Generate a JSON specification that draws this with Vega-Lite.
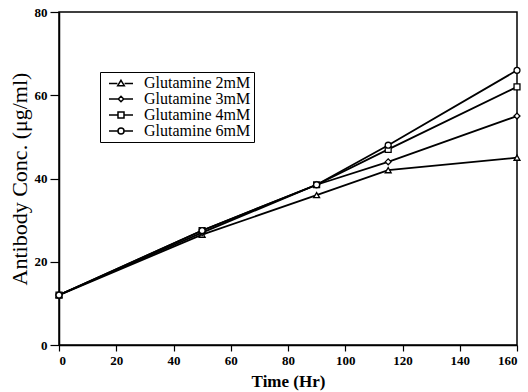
{
  "$schema": "https://vega.github.io/schema/vega-lite/v6.json",
  "autosize": {"type": "none"},
  "padding": {"left": 59, "top": 12, "right": 11, "bottom": 47},
  "width": 458,
  "height": 333,
  "background": "white",
  "config": {
    "font": "Liberation Serif",
    "view": {"stroke": "black", "strokeWidth": 1.5},
    "axis": {"grid": false, "domainColor": "black", "tickColor": "black", "labelColor": "black", "titleColor": "black", "labelFont": "Liberation Serif", "titleFont": "Liberation Serif", "domainWidth": 1.5, "tickWidth": 1.2}
  },
  "data": {
    "values": [
      {"time": 0, "conc": 12, "series": "Glutamine 2mM"},
      {"time": 50, "conc": 26.5, "series": "Glutamine 2mM"},
      {"time": 90, "conc": 36, "series": "Glutamine 2mM"},
      {"time": 115, "conc": 42, "series": "Glutamine 2mM"},
      {"time": 160, "conc": 45, "series": "Glutamine 2mM"},
      {"time": 0, "conc": 12, "series": "Glutamine 3mM"},
      {"time": 50, "conc": 27, "series": "Glutamine 3mM"},
      {"time": 90, "conc": 38.5, "series": "Glutamine 3mM"},
      {"time": 115, "conc": 44, "series": "Glutamine 3mM"},
      {"time": 160, "conc": 55, "series": "Glutamine 3mM"},
      {"time": 0, "conc": 12, "series": "Glutamine 4mM"},
      {"time": 50, "conc": 27.5, "series": "Glutamine 4mM"},
      {"time": 90, "conc": 38.5, "series": "Glutamine 4mM"},
      {"time": 115, "conc": 47, "series": "Glutamine 4mM"},
      {"time": 160, "conc": 62, "series": "Glutamine 4mM"},
      {"time": 0, "conc": 12, "series": "Glutamine 6mM"},
      {"time": 50, "conc": 27.5, "series": "Glutamine 6mM"},
      {"time": 90, "conc": 38.5, "series": "Glutamine 6mM"},
      {"time": 115, "conc": 48, "series": "Glutamine 6mM"},
      {"time": 160, "conc": 66, "series": "Glutamine 6mM"}
    ]
  },
  "encoding": {
    "x": {"field": "time", "type": "quantitative", "scale": {"domain": [0, 160], "nice": false},
      "axis": {"values": [0, 20, 40, 60, 80, 100, 120, 140, 160], "title": "Time  (Hr)", "labelFontSize": 13, "labelFontWeight": "bold", "titleFontSize": 17, "titleFontWeight": "bold", "tickSize": 6, "labelPadding": 3, "titlePadding": 6}},
    "y": {"field": "conc", "type": "quantitative", "scale": {"domain": [0, 80], "nice": false},
      "axis": {"values": [0, 20, 40, 60, 80], "title": "Antibody Conc. (μg/ml)", "labelFontSize": 13, "labelFontWeight": "bold", "titleFontSize": 22, "titleFontWeight": "normal", "tickSize": 9, "labelPadding": 3, "titlePadding": 3}}
  },
  "resolve": {"scale": {"shape": "independent"}, "legend": {"shape": "independent"}},
  "layer": [
    {
      "mark": {"type": "line", "color": "black", "strokeWidth": 1.8},
      "encoding": {"detail": {"field": "series"}}
    },
    {
      "mark": {"type": "point", "filled": false, "color": "black", "fill": "white", "fillOpacity": 1, "strokeWidth": 1.3, "size": 35, "opacity": 1},
      "encoding": {
        "shape": {"field": "series", "type": "nominal",
          "scale": {"domain": ["Glutamine 2mM", "Glutamine 3mM", "Glutamine 4mM", "Glutamine 6mM"], "range": ["triangle-up", "diamond", "square", "circle"]},
          "legend": null
        }
      }
    },
    {
      "mark": {"type": "point", "filled": false, "color": "black", "opacity": 0, "size": 36},
      "encoding": {
        "shape": {"field": "series", "type": "nominal",
          "scale": {"domain": ["Glutamine 2mM", "Glutamine 3mM", "Glutamine 4mM", "Glutamine 6mM"], "range": ["M-4,0.2H-1.2M1.2,0.2H4M0,-0.9L1.1,0.9H-1.1Z", "M-4,0H-0.9M0.9,0H4M-0.9,0L0,-0.9L0.9,0L0,0.9Z", "M-4,0H-1M1,0H4M-1,-1H1V1H-1Z", "M-4,0H-1M1,0H4M-1,0A1,1,0,1,1,1,0A1,1,0,1,1,-1,0Z"]},
          "legend": {"title": null, "orient": "none", "legendX": 41, "legendY": 60, "strokeColor": "black", "fillColor": "white", "padding": 3, "labelFontSize": 16, "labelFont": "Liberation Serif", "labelColor": "black", "rowPadding": 0, "symbolSize": 36, "labelOffset": 15, "symbolOffset": 10,
            "encode": {"symbols": {"update": {"stroke": {"value": "black"}, "fill": {"value": "white"}, "strokeWidth": {"value": 1.2}, "opacity": {"value": 1}, "strokeOpacity": {"value": 1}, "fillOpacity": {"value": 1}}}}}
        }
      }
    }
  ]
}
